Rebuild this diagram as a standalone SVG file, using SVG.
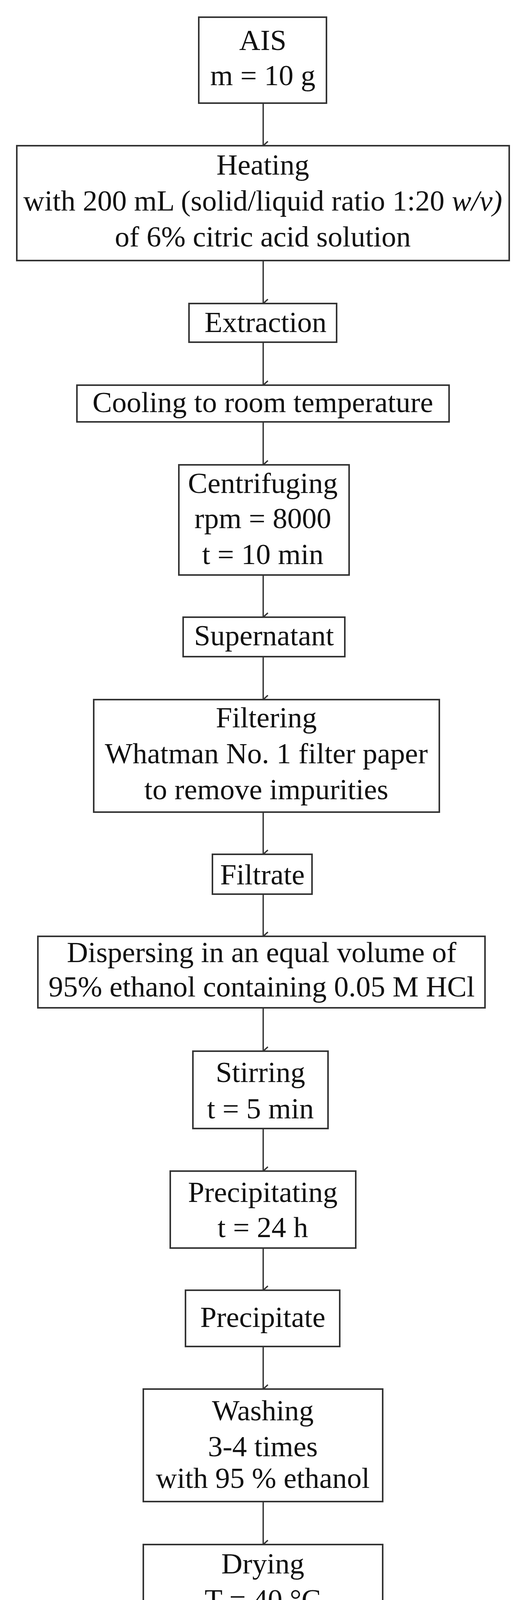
<svg xmlns="http://www.w3.org/2000/svg" width="1347" height="4941" viewBox="0 0 1347 4941">
<style>
.b{fill:#fff;stroke:#333;stroke-width:4}
.t{font-family:"Liberation Serif",serif;font-size:75px;fill:#111;text-anchor:middle}
.c{stroke:#333;stroke-width:3.5;fill:none;marker-end:url(#a)}
</style>
<defs><marker id="a" markerUnits="userSpaceOnUse" markerWidth="40" markerHeight="40" refX="20" refY="30" orient="auto" viewBox="0 0 40 40"><path d="M9,18 L20,30 L31,18" fill="none" stroke="#333" stroke-width="3.5"/></marker></defs>
<rect width="1347" height="4941" fill="#fff"/>
<g id="connectors">
<line class="c" x1="674" y1="264" x2="674" y2="373"/>
<line class="c" x1="674" y1="667" x2="674" y2="777"/>
<line class="c" x1="674" y1="876" x2="674" y2="986"/>
<line class="c" x1="674" y1="1080" x2="674" y2="1190"/>
<line class="c" x1="674" y1="1472" x2="674" y2="1580"/>
<line class="c" x1="674" y1="1681" x2="674" y2="1791"/>
<line class="c" x1="674" y1="2079" x2="674" y2="2187"/>
<line class="c" x1="674" y1="2289" x2="674" y2="2397"/>
<line class="c" x1="674" y1="2580" x2="674" y2="2691"/>
<line class="c" x1="674" y1="2889" x2="674" y2="2998"/>
<line class="c" x1="674" y1="3195" x2="674" y2="3303"/>
<line class="c" x1="674" y1="3447" x2="674" y2="3556"/>
<line class="c" x1="674" y1="3844" x2="674" y2="3954"/>
<line class="c" x1="674" y1="4248" x2="674" y2="4361"/>
<line class="c" x1="674" y1="4567" x2="674" y2="4677"/>
</g>
<g id="n1"><rect class="b" x="509" y="44" width="327" height="220"/><text class="t" x="673" y="128">AIS</text><text class="t" x="673" y="218">m = 10 g</text></g>
<g id="n2"><rect class="b" x="43" y="373" width="1261" height="294"/><text class="t" x="673" y="447">Heating</text><text class="t" x="673" y="539">with 200 mL (solid/liquid ratio 1:20 <tspan font-style="italic">w/v)</tspan></text><text class="t" x="673" y="631">of 6% citric acid solution</text></g>
<g id="n3"><rect class="b" x="484" y="777" width="378" height="99"/><text class="t" x="680" y="850">Extraction</text></g>
<g id="n4"><rect class="b" x="197" y="986" width="953" height="94"/><text class="t" x="673" y="1055">Cooling to room temperature</text></g>
<g id="n5"><rect class="b" x="458" y="1190" width="436" height="282"/><text class="t" x="673" y="1262">Centrifuging</text><text class="t" x="673" y="1352">rpm = 8000</text><text class="t" x="673" y="1444">t = 10 min</text></g>
<g id="n6"><rect class="b" x="469" y="1580" width="414" height="101"/><text class="t" x="676" y="1652">Supernatant</text></g>
<g id="n7"><rect class="b" x="240" y="1791" width="885" height="288"/><text class="t" x="682" y="1862">Filtering</text><text class="t" x="682" y="1954">Whatman No. 1 filter paper</text><text class="t" x="682" y="2046">to remove impurities</text></g>
<g id="n8"><rect class="b" x="544" y="2187" width="255" height="102"/><text class="t" x="672" y="2264">Filtrate</text></g>
<g id="n9"><rect class="b" x="97" y="2397" width="1145" height="183"/><text class="t" x="670" y="2463">Dispersing in an equal volume of</text><text class="t" x="670" y="2551">95% ethanol containing 0.05 M HCl</text></g>
<g id="n10"><rect class="b" x="494" y="2691" width="346" height="198"/><text class="t" x="667" y="2770">Stirring</text><text class="t" x="667" y="2863">t = 5 min</text></g>
<g id="n11"><rect class="b" x="436" y="2998" width="475" height="197"/><text class="t" x="673" y="3077">Precipitating</text><text class="t" x="673" y="3167">t = 24 h</text></g>
<g id="n12"><rect class="b" x="475" y="3303" width="395" height="144"/><text class="t" x="673" y="3397">Precipitate</text></g>
<g id="n13"><rect class="b" x="367" y="3556" width="613" height="288"/><text class="t" x="673" y="3636">Washing</text><text class="t" x="673" y="3728">3-4 times</text><text class="t" x="673" y="3809">with 95 % ethanol</text></g>
<g id="n14"><rect class="b" x="367" y="3954" width="613" height="294"/><text class="t" x="673" y="4028">Drying</text><text class="t" x="673" y="4120">T = 40 °C</text><text class="t" x="673" y="4210">to constant weight</text></g>
<g id="n15"><rect class="b" x="307" y="4361" width="732" height="206"/><text class="t" x="673" y="4443">Grinding</text><text class="t" x="673" y="4534">to pass 100-mesh sieve</text></g>
<g id="n16"><rect class="b" x="434" y="4677" width="477" height="210"/><text class="t" x="673" y="4763">Final product</text><text class="t" x="673" y="4851">Pectin</text></g>
</svg>
